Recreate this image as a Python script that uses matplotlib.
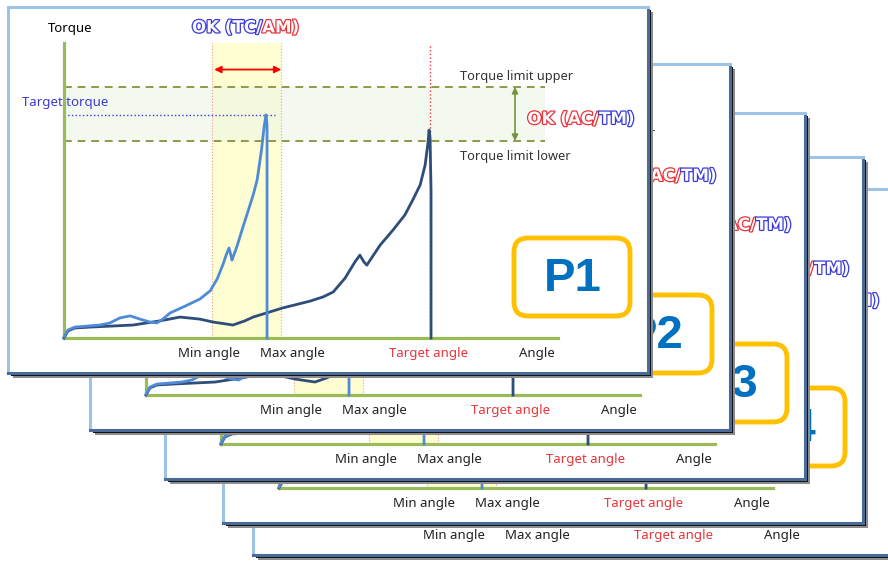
import matplotlib
matplotlib.use("Agg")
import matplotlib.pyplot as plt
import matplotlib.patheffects as pe
from matplotlib.patches import Rectangle, FancyBboxPatch
from matplotlib.transforms import Affine2D

# chart values (angle / torque in % of the axis)
light_angle = [0, 0.8, 2.2, 7.3, 9.3, 11.3, 13.4, 15.4, 17.4, 18.8, 20.0, 21.5, 24.5, 27.5,
               29.6, 31.0, 32.2, 32.8, 33.4, 33.8, 34.0, 35.0, 36.2, 37.2, 38.3, 39.1,
               40.0, 40.5, 40.9, 41.1, 41.1]
light_torque = [0.3, 2.7, 3.7, 4.4, 5.1, 6.8, 7.5, 6.4, 5.4, 5.1, 6.4, 8.5, 10.8, 13.2,
                16.0, 20.0, 25.0, 28.0, 30.5, 28.0, 26.4, 31.0, 37.5, 42.7, 48.5, 53.6,
                64.0, 71.5, 75.6, 72.2, 0]
dark_angle = [0, 0.8, 2.2, 5.3, 14.0, 19.4, 23.5, 27.5, 30.2, 34.2, 36.6, 38.3, 44.3, 49.8,
              52.4, 54.5, 56.9, 58.9, 59.9, 60.7, 61.3, 64.0, 66.6, 69.0, 70.6, 72.1, 73.1,
              73.7, 73.9, 74.1, 74.3, 74.3]
dark_torque = [0, 2.4, 3.4, 3.7, 4.4, 5.8, 7.1, 6.4, 5.4, 4.4, 5.8, 7.1, 10.2, 12.5,
               13.9, 15.6, 20.3, 25.8, 28.1, 25.8, 24.7, 31.5, 36.6, 41.7, 46.8, 51.9, 58.6,
               66.4, 70.5, 67.8, 50, 0]
min_angle, max_angle, target_angle = 30, 44, 74.1
torque_upper, torque_lower, target_torque = 85.1, 66.8, 75.6
card_labels = [None, "P4", "P3", "P2", "P1"]

W, H = 888, 563
CW, CH = 640, 366
card_pos = [(253, 189), (223, 157), (165, 113), (90, 64), (8, 7)]

plt.rcParams['font.family'] = ['Noto Sans', 'DejaVu Sans']
fig = plt.figure(figsize=(W / 100, H / 100), dpi=100)
pix = Affine2D().scale(1 / W, -1 / H).translate(0, 1) + fig.transFigure

GREEN = '#9bbb59'
LIGHT = '#4f8ad6'
DARK = '#2e4d7b'
RED = '#e8353a'
BLUE = '#3b3bd0'


def two_color(ax, x, y, left, right, c1, c2, size):
    eff1 = [pe.Stroke(linewidth=1.8, foreground=c1), pe.Normal()]
    eff2 = [pe.Stroke(linewidth=1.8, foreground=c2), pe.Normal()]
    ax.text(x, y, left, color='#fbfbff', fontsize=size, fontweight='bold', ha='right',
            va='center', clip_on=False, path_effects=eff1, family='DejaVu Sans')
    ax.text(x, y, right, color='#fbfbff', fontsize=size, fontweight='bold', ha='left',
            va='center', clip_on=False, path_effects=eff2, family='DejaVu Sans')


for k, ((cx, cy), lab) in enumerate(zip(card_pos, card_labels)):
    z = 10 * k
    # shadow behind the card (right and bottom)
    fig.add_artist(Rectangle((cx + 5, cy + 5), CW, CH, transform=pix,
                             facecolor='#8c8c8c', edgecolor='none', zorder=z))
    fig.add_artist(Rectangle((cx + 2.5, cy + 2.5), CW, CH, transform=pix,
                             facecolor='#111111', edgecolor='none', zorder=z + 1))
    card = fig.add_axes([cx / W, 1 - (cy + CH) / H, CW / W, CH / H])
    card.set_zorder(z + 2)
    card.set_xlim(0, CW)
    card.set_ylim(CH, 0)
    card.set_xticks([])
    card.set_yticks([])
    card.set_facecolor('white')
    for s in ['top', 'left']:
        card.spines[s].set_color('#9dc3e6')
        card.spines[s].set_linewidth(2.2)
    for s in ['right', 'bottom']:
        card.spines[s].set_color('#4a6a9a')
        card.spines[s].set_linewidth(2.2)
    if lab:
        card.add_patch(FancyBboxPatch((506, 231), 116, 78,
                                      boxstyle='round,pad=0,rounding_size=14',
                                      facecolor='white', edgecolor='#ffc000', linewidth=3.5))
        card.text(565, 272, lab, color='#0070c0', fontsize=34, fontweight='bold',
                  ha='center', va='center', family='Liberation Sans')

    # chart inside the card
    ax = fig.add_axes([(cx + 56) / W, 1 - (cy + 331) / H, 494 / W, 295 / H])
    ax.set_zorder(z + 3)
    ax.set_xlim(0, 100)
    ax.set_ylim(0, 100)
    ax.axis('off')
    ax.add_patch(Rectangle((min_angle, 0), max_angle - min_angle, 100,
                           facecolor='#fefed2', edgecolor='none', zorder=0))
    ax.add_patch(Rectangle((0, torque_lower), 97.4, torque_upper - torque_lower,
                           facecolor='#eef5e6', edgecolor='none', alpha=0.6, zorder=0.5))
    for a in [min_angle, max_angle]:
        ax.plot([a, a], [0, 100], ls=':', color='#f09a9a', lw=0.8, zorder=1)
    ax.annotate('', xy=(min_angle + 0.4, 91), xytext=(max_angle, 91),
                arrowprops=dict(arrowstyle='<|-|>', color='red', lw=1.3,
                                mutation_scale=10, shrinkA=0, shrinkB=0))
    for t in [torque_upper, torque_lower]:
        ax.plot([0, 97.4], [t, t], ls=(0, (4, 3)), color='#8c9a4c', lw=1.4, zorder=1)
    ax.plot([0, 42.7], [target_torque, target_torque], ls=':', color=BLUE, lw=1, zorder=1)
    ax.plot([target_angle, target_angle], [0, 99.3], ls=':', color=RED, lw=1, zorder=1)
    ax.annotate('', xy=(91.3, torque_upper), xytext=(91.3, torque_lower),
                arrowprops=dict(arrowstyle='<|-|>', color='#76923c', lw=1.2,
                                mutation_scale=9, shrinkA=0, shrinkB=0))
    ax.plot([0, 0], [0, 100], color=GREEN, lw=2.3, clip_on=False, zorder=2)
    ax.plot([0, 100], [0, 0], color=GREEN, lw=2.3, clip_on=False, zorder=2)
    ax.plot(dark_angle, dark_torque, color=DARK, lw=2.0, zorder=3, clip_on=False,
            solid_joinstyle='round')
    ax.plot(light_angle, light_torque, color=LIGHT, lw=2.0, zorder=4, clip_on=False,
            solid_joinstyle='round')

    ax.text(1.2, 105, 'Torque', fontsize=9.5, ha='center', va='center', clip_on=False)
    ax.text(-8.5, 79.8, 'Target torque', color=BLUE, fontsize=9.5, ha='left', va='center',
            clip_on=False)
    ax.text(80.2, 88.6, 'Torque limit upper', fontsize=9.2, ha='left', va='center',
            color='#333333', clip_on=False)
    ax.text(80.2, 61.6, 'Torque limit lower', fontsize=9.2, ha='left', va='center',
            color='#333333', clip_on=False)
    for xa, txt, col in [(29.4, 'Min angle', '#222222'), (46.2, 'Max angle', '#222222'),
                         (73.7, 'Target angle', RED), (95.7, 'Angle', '#222222')]:
        ax.text(xa, -5.2, txt, color=col, fontsize=9.5, ha='center', va='center',
                clip_on=False)
    two_color(ax, 40.1, 105.3, 'OK (TC/', 'AM)', '#3a3ad8', RED, 12)
    two_color(ax, 108.3, 74.3, 'OK (AC/', 'TM)', RED, '#3a3ad8', 12)

fig.savefig('out.png', dpi=100)
